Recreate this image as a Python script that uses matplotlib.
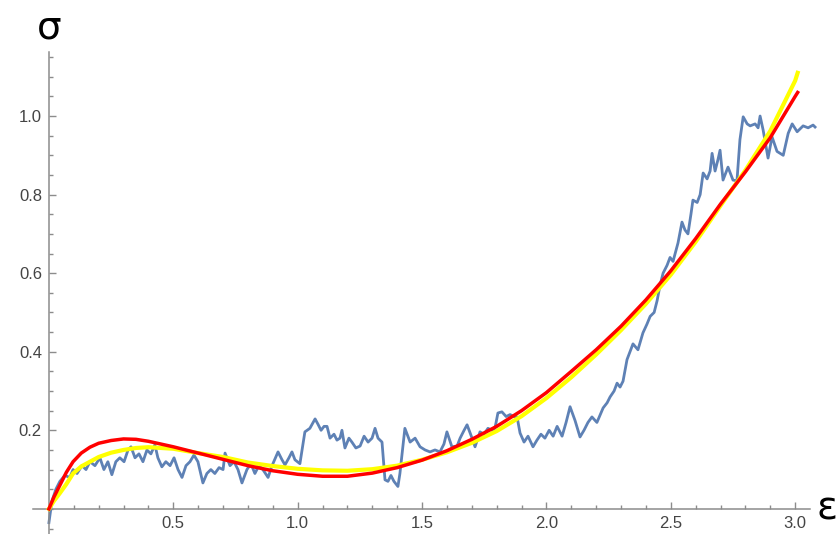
import matplotlib.pyplot as plt
from matplotlib.ticker import MultipleLocator

# dados medidos (curva ruidosa)
blue_x = [0.000, 0.012, 0.028, 0.044, 0.064, 0.084, 0.097, 0.113, 0.133, 0.149,
          0.165, 0.185, 0.205, 0.221, 0.237, 0.253, 0.269, 0.285, 0.302, 0.318,
          0.330, 0.346, 0.362, 0.378, 0.394, 0.410, 0.426, 0.438, 0.454, 0.470,
          0.487, 0.503, 0.519, 0.535, 0.551, 0.567, 0.583, 0.599, 0.619, 0.635,
          0.651, 0.667, 0.684, 0.700, 0.708, 0.728, 0.744, 0.760, 0.776, 0.796,
          0.812, 0.828, 0.844, 0.860, 0.881, 0.897, 0.921, 0.937, 0.949, 0.965,
          0.977, 0.989, 1.009, 1.029, 1.049, 1.070, 1.082, 1.094, 1.106, 1.118,
          1.130, 1.146, 1.158, 1.170, 1.178, 1.190, 1.206, 1.218, 1.234, 1.251,
          1.267, 1.283, 1.299, 1.311, 1.323, 1.339, 1.351, 1.363, 1.375, 1.387,
          1.403, 1.411, 1.431, 1.452, 1.472, 1.492, 1.512, 1.532, 1.552, 1.572,
          1.588, 1.600, 1.620, 1.641, 1.653, 1.669, 1.681, 1.701, 1.713, 1.733,
          1.749, 1.765, 1.781, 1.793, 1.805, 1.821, 1.838, 1.854, 1.870, 1.882,
          1.894, 1.910, 1.926, 1.946, 1.962, 1.978, 1.994, 2.011, 2.027, 2.043,
          2.063, 2.079, 2.095, 2.115, 2.135, 2.151, 2.167, 2.183, 2.203, 2.228,
          2.244, 2.256, 2.272, 2.284, 2.296, 2.308, 2.324, 2.336, 2.348, 2.368,
          2.388, 2.404, 2.417, 2.433, 2.445, 2.457, 2.469, 2.485, 2.497, 2.509,
          2.529, 2.545, 2.557, 2.569, 2.581, 2.589, 2.606, 2.618, 2.630, 2.646,
          2.658, 2.666, 2.678, 2.690, 2.698, 2.710, 2.730, 2.750, 2.766, 2.778,
          2.791, 2.807, 2.819, 2.839, 2.851, 2.859, 2.871, 2.891, 2.907, 2.927,
          2.952, 2.972, 2.988, 3.008, 3.032, 3.052, 3.072, 3.080]
blue_y = [-0.035, 0.020, 0.050, 0.070, 0.085, 0.080, 0.100, 0.090, 0.110, 0.100,
          0.120, 0.110, 0.130, 0.100, 0.120, 0.087, 0.120, 0.130, 0.120, 0.150,
          0.158, 0.130, 0.140, 0.120, 0.150, 0.140, 0.163, 0.130, 0.107, 0.120,
          0.110, 0.130, 0.100, 0.080, 0.110, 0.120, 0.137, 0.120, 0.066, 0.090,
          0.100, 0.090, 0.105, 0.100, 0.142, 0.110, 0.120, 0.100, 0.066, 0.100,
          0.115, 0.090, 0.110, 0.100, 0.080, 0.110, 0.145, 0.125, 0.112, 0.130,
          0.145, 0.125, 0.115, 0.196, 0.205, 0.229, 0.215, 0.200, 0.210, 0.210,
          0.180, 0.190, 0.175, 0.180, 0.200, 0.155, 0.180, 0.170, 0.155, 0.160,
          0.185, 0.170, 0.180, 0.205, 0.180, 0.170, 0.074, 0.070, 0.085, 0.070,
          0.057, 0.090, 0.205, 0.170, 0.180, 0.158, 0.150, 0.145, 0.150, 0.145,
          0.165, 0.196, 0.158, 0.160, 0.180, 0.200, 0.214, 0.180, 0.158, 0.196,
          0.190, 0.205, 0.200, 0.205, 0.244, 0.247, 0.235, 0.240, 0.235, 0.234,
          0.193, 0.170, 0.185, 0.158, 0.175, 0.190, 0.180, 0.200, 0.185, 0.210,
          0.185, 0.220, 0.260, 0.225, 0.183, 0.200, 0.220, 0.234, 0.220, 0.257,
          0.270, 0.285, 0.300, 0.320, 0.310, 0.325, 0.380, 0.400, 0.420, 0.405,
          0.448, 0.470, 0.490, 0.500, 0.530, 0.570, 0.600, 0.620, 0.640, 0.630,
          0.677, 0.730, 0.710, 0.700, 0.750, 0.786, 0.780, 0.800, 0.855, 0.840,
          0.860, 0.905, 0.860, 0.890, 0.913, 0.837, 0.870, 0.837, 0.835, 0.940,
          0.998, 0.980, 0.975, 0.980, 0.970, 1.000, 0.965, 0.893, 0.947, 0.910,
          0.900, 0.956, 0.980, 0.960, 0.975, 0.970, 0.977, 0.972]

# curvas ajustadas
fit_x = [0, 0.02, 0.044, 0.07, 0.097, 0.13, 0.165, 0.2, 0.25, 0.3, 0.35, 0.4,
         0.5, 0.6, 0.7, 0.8, 0.9, 1.0, 1.1, 1.2, 1.3, 1.4, 1.5, 1.6, 1.7, 1.8,
         1.9, 2.0, 2.1, 2.2, 2.3, 2.4, 2.5, 2.6, 2.7, 2.8, 2.9, 3.0, 3.01]
red_y = [0, 0.030, 0.060, 0.093, 0.120, 0.142, 0.157, 0.167, 0.174, 0.178, 0.177, 0.172,
         0.158, 0.142, 0.126, 0.110, 0.097, 0.088, 0.083, 0.083, 0.091, 0.105, 0.124,
         0.148, 0.177, 0.210, 0.250, 0.296, 0.350, 0.405, 0.465, 0.532, 0.606, 0.688,
         0.776, 0.858, 0.945, 1.050, 1.060]
yellow_y = [0, 0.020, 0.040, 0.063, 0.090, 0.108, 0.120, 0.132, 0.143, 0.150, 0.155, 0.157,
            0.153, 0.142, 0.132, 0.118, 0.109, 0.102, 0.098, 0.097, 0.101, 0.110, 0.125,
            0.144, 0.168, 0.198, 0.236, 0.282, 0.335, 0.393, 0.455, 0.522, 0.596, 0.680,
            0.772, 0.862, 0.962, 1.090, 1.110]

x_ticks = [0.5, 1.0, 1.5, 2.0, 2.5, 3.0]
y_ticks = [0.2, 0.4, 0.6, 0.8, 1.0]

plt.rcParams['font.family'] = ['Liberation Sans', 'DejaVu Sans']

fig = plt.figure(figsize=(8.4, 5.34), dpi=100)
ax = fig.add_axes([0.0393, 0.0, 0.9325, 0.9026])

ax.plot(blue_x, blue_y, color='#5E81B5', lw=2.0, clip_on=False, zorder=2)
ax.plot(fit_x, yellow_y, color='#FFFF00', lw=3.0, clip_on=False, zorder=3)
ax.plot(fit_x, red_y, color='#FF0000', lw=2.5, clip_on=False, zorder=4)

ax.set_xlim(-0.064, 3.085)
ax.set_ylim(-0.064, 1.163)

for s in ['top', 'right']:
    ax.spines[s].set_visible(False)
ax.spines['left'].set_position(('data', 0))
ax.spines['bottom'].set_position(('data', 0))
ax.spines['bottom'].set_bounds(-0.064, 3.06)
for s in ['left', 'bottom']:
    ax.spines[s].set_color('#8c8c8c')
    ax.spines[s].set_linewidth(1.1)

ax.set_xticks(x_ticks)
ax.set_xticklabels(['%.1f' % v for v in x_ticks])
ax.set_yticks(y_ticks)
ax.set_yticklabels(['%.1f' % v for v in y_ticks])
ax.xaxis.set_minor_locator(MultipleLocator(0.1))
ax.yaxis.set_minor_locator(MultipleLocator(0.05))
ax.tick_params(which='both', direction='in', color='#8c8c8c', width=1.0,
               labelcolor='#444444', labelsize=12)
ax.tick_params(which='major', length=5, pad=5)
ax.tick_params(which='minor', length=3)

ax.text(0.0, 1.225, 'σ', fontsize=28, ha='center', va='center', clip_on=False,
        family=['DejaVu Sans'])
ax.text(3.085, 0.0, 'ε', fontsize=28, ha='left', va='center', clip_on=False,
        family=['DejaVu Sans'])

plt.savefig('out.png', dpi=100)
